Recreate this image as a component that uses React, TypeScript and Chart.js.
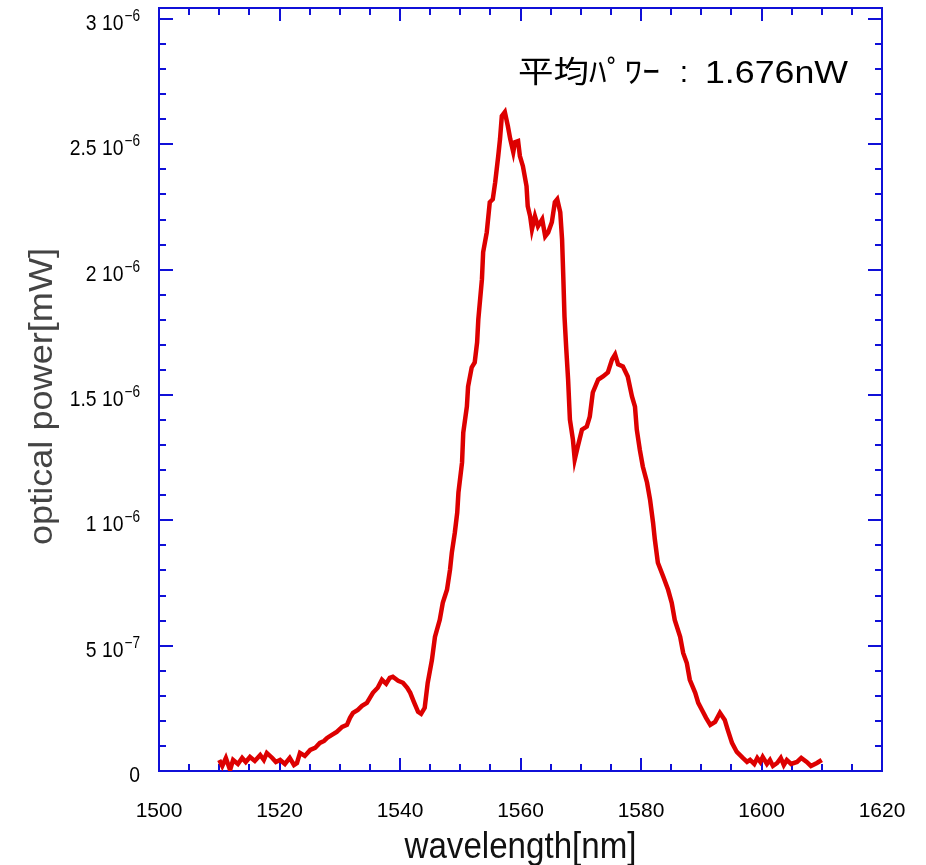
import React, { useEffect, useRef } from "react";
import { Chart, registerables } from "chart.js";

Chart.register(...registerables);

// wavelength [nm]
const wavelength = [
  1510.0, 1510.5, 1511.1, 1511.8, 1512.3, 1513.1, 1513.8, 1514.4, 1515.1, 1515.9,
  1516.8, 1517.4, 1517.9, 1518.8, 1519.4, 1520.1, 1520.9, 1521.7, 1522.4, 1522.9,
  1523.4, 1524.2, 1525.1, 1525.9, 1526.7, 1527.4, 1527.9, 1528.7, 1529.5, 1530.4,
  1531.2, 1531.7, 1532.2, 1533.0, 1533.7, 1534.5, 1535.0, 1535.5, 1536.3, 1537.0,
  1537.7, 1538.3, 1538.8, 1539.7, 1540.5, 1541.2, 1541.7, 1542.3, 1543.0, 1543.5,
  1544.1, 1544.6, 1545.3, 1545.8, 1546.6, 1547.1, 1547.8, 1548.3, 1548.6, 1549.1,
  1549.5, 1549.7, 1550.3, 1550.5, 1551.1, 1551.3, 1551.9, 1552.4, 1552.8, 1553.0,
  1553.6, 1553.8, 1554.4, 1554.9, 1555.4, 1555.8, 1556.3, 1556.6, 1556.9, 1557.4,
  1557.9, 1558.3, 1558.8, 1559.1, 1559.6, 1559.9, 1560.4, 1561.0, 1561.2, 1561.6,
  1561.9, 1562.4, 1562.9, 1563.6, 1564.1, 1564.6, 1565.2, 1565.7, 1566.1, 1566.6,
  1566.9, 1567.1, 1567.3, 1567.6, 1567.9, 1568.2, 1568.7, 1569.0, 1569.5, 1570.2,
  1571.0, 1571.5, 1572.0, 1572.9, 1573.7, 1574.5, 1575.2, 1575.7, 1576.2, 1577.0,
  1577.8, 1578.5, 1579.0, 1579.3, 1579.8, 1580.3, 1581.0, 1581.5, 1582.0, 1582.3,
  1582.8, 1583.7, 1584.5, 1585.1, 1585.6, 1586.5, 1587.0, 1587.6, 1588.1, 1589.0,
  1589.5, 1590.1, 1590.8, 1591.5, 1592.3, 1593.1, 1593.9, 1594.4, 1595.1, 1595.9,
  1596.9, 1597.6, 1598.1, 1598.8, 1599.3, 1599.8, 1600.2, 1600.9, 1601.4, 1601.9,
  1602.6, 1603.2, 1603.7, 1604.2, 1604.9, 1605.9, 1606.6, 1607.5, 1608.2, 1609.2,
  1610.0,
];

// optical power, in units of 1e-6 mW
const power = [
  0.044, 0.020, 0.052, 0.004, 0.044, 0.028, 0.052, 0.036, 0.056, 0.040,
  0.064, 0.044, 0.072, 0.052, 0.036, 0.044, 0.028, 0.052, 0.024, 0.032,
  0.072, 0.060, 0.084, 0.092, 0.112, 0.120, 0.132, 0.144, 0.156, 0.176,
  0.184, 0.212, 0.232, 0.244, 0.260, 0.272, 0.292, 0.312, 0.332, 0.364,
  0.348, 0.372, 0.376, 0.360, 0.352, 0.332, 0.312, 0.276, 0.236, 0.228,
  0.252, 0.352, 0.443, 0.535, 0.603, 0.671, 0.723, 0.803, 0.871, 0.951,
  1.031, 1.111, 1.231, 1.350, 1.454, 1.534, 1.610, 1.630, 1.710, 1.802,
  1.962, 2.070, 2.149, 2.269, 2.281, 2.349, 2.453, 2.521, 2.613, 2.629,
  2.573, 2.521, 2.469, 2.509, 2.513, 2.453, 2.413, 2.333, 2.253, 2.213,
  2.161, 2.213, 2.173, 2.201, 2.133, 2.149, 2.189, 2.269, 2.281, 2.229,
  2.121, 1.974, 1.814, 1.682, 1.562, 1.402, 1.322, 1.243, 1.294, 1.362,
  1.374, 1.414, 1.510, 1.562, 1.574, 1.590, 1.642, 1.662, 1.622, 1.614,
  1.574, 1.494, 1.454, 1.362, 1.282, 1.215, 1.151, 1.083, 0.991, 0.923,
  0.831, 0.775, 0.723, 0.671, 0.603, 0.535, 0.471, 0.431, 0.364, 0.312,
  0.272, 0.244, 0.212, 0.184, 0.196, 0.232, 0.204, 0.164, 0.112, 0.076,
  0.052, 0.036, 0.044, 0.028, 0.052, 0.036, 0.056, 0.028, 0.044, 0.020,
  0.032, 0.052, 0.024, 0.044, 0.028, 0.036, 0.052, 0.036, 0.020, 0.032,
  0.044,
];

const xTicks = [1500, 1520, 1540, 1560, 1580, 1600, 1620];
const xTickLabels = ["1500", "1520", "1540", "1560", "1580", "1600", "1620"];
const yTicks = [0, 0.5, 1, 1.5, 2, 2.5, 3];
const yTickMantissa = ["0", "5", "1", "1.5", "2", "2.5", "3"];
const yTickExponent = ["", "\u22127", "\u22126", "\u22126", "\u22126", "\u22126", "\u22126"];

const xTitle = "wavelength[nm]";
const yTitle = "optical power[mW]";
const noteLabel = "平均ﾊﾟﾜｰ";
const noteColon = ":";
const noteValue = "1.676nW";

const AXIS_COLOR = "#1010d8";
const LINE_COLOR = "#dd0000";
const TICK_FONT = "'Liberation Sans', Arial, sans-serif";

function fitText(ctx: CanvasRenderingContext2D, text: string, x: number, y: number, width: number, font: string) {
  ctx.save();
  ctx.font = font;
  const w = ctx.measureText(text).width;
  ctx.translate(x, y);
  ctx.scale(width / w, 1);
  ctx.textAlign = "left";
  ctx.textBaseline = "alphabetic";
  ctx.fillText(text, 0, 0);
  ctx.restore();
}

// draw text right-aligned at xr, horizontally condensed by factor k; returns drawn width
function rightText(ctx: CanvasRenderingContext2D, text: string, xr: number, y: number, font: string, k: number) {
  ctx.save();
  ctx.font = font;
  const w = ctx.measureText(text).width * k;
  ctx.translate(xr - w, y);
  ctx.scale(k, 1);
  ctx.textAlign = "left";
  ctx.textBaseline = "alphabetic";
  ctx.fillText(text, 0, 0);
  ctx.restore();
  return w;
}

const framePlugin = {
  id: "framePlugin",
  beforeDatasetsDraw(chart: any) {
    const { ctx, chartArea, scales } = chart;
    const { left, right, top, bottom } = chartArea;
    const x = scales.x;
    const y = scales.y;
    ctx.save();
    ctx.strokeStyle = AXIS_COLOR;
    ctx.lineWidth = 2;
    ctx.strokeRect(left, top, right - left, bottom - top);
    ctx.beginPath();
    for (let i = 0; i < xTicks.length; i++) {
      const v = xTicks[i];
      const px = Math.round(x.getPixelForValue(v));
      ctx.moveTo(px, bottom); ctx.lineTo(px, bottom - 13);
      ctx.moveTo(px, top); ctx.lineTo(px, top + 13);
      if (i < xTicks.length - 1) {
        const step = (xTicks[i + 1] - v) / 4;
        for (let k = 1; k < 4; k++) {
          const mp = Math.round(x.getPixelForValue(v + step * k));
          ctx.moveTo(mp, bottom); ctx.lineTo(mp, bottom - 7);
          ctx.moveTo(mp, top); ctx.lineTo(mp, top + 7);
        }
      }
    }
    for (let i = 0; i < yTicks.length; i++) {
      const v = yTicks[i];
      const py = Math.round(y.getPixelForValue(v));
      ctx.moveTo(left, py); ctx.lineTo(left + 14, py);
      ctx.moveTo(right, py); ctx.lineTo(right - 14, py);
      if (i < yTicks.length - 1) {
        const step = (yTicks[i + 1] - v) / 5;
        for (let k = 1; k < 5; k++) {
          const mp = Math.round(y.getPixelForValue(v + step * k));
          ctx.moveTo(left, mp); ctx.lineTo(left + 7, mp);
          ctx.moveTo(right, mp); ctx.lineTo(right - 7, mp);
        }
      }
    }
    ctx.stroke();
    ctx.restore();
  },
  afterDraw(chart: any) {
    const { ctx, chartArea, scales } = chart;
    const { left, right, top, bottom } = chartArea;
    const x = scales.x;
    const y = scales.y;
    ctx.save();
    ctx.fillStyle = "#000";
    ctx.font = "21px " + TICK_FONT;
    ctx.textAlign = "center";
    ctx.textBaseline = "alphabetic";
    for (let i = 0; i < xTicks.length; i++) {
      ctx.fillText(xTickLabels[i], x.getPixelForValue(xTicks[i]), bottom + 46);
    }
    const labelRight = left - 19;
    for (let i = 0; i < yTicks.length; i++) {
      const py = y.getPixelForValue(yTicks[i]);
      const exp = yTickExponent[i];
      if (exp) {
        const ew = rightText(ctx, exp, labelRight, py + 2, "16px " + TICK_FONT, 0.85);
        rightText(ctx, yTickMantissa[i] + " 10", labelRight - ew - 1, py + 11, "22px " + TICK_FONT, 0.88);
      } else {
        rightText(ctx, yTickMantissa[i], labelRight, py + 11, "22px " + TICK_FONT, 0.88);
      }
    }
    ctx.fillStyle = "#111";
    const cx = (left + right) / 2;
    fitText(ctx, xTitle, cx - 116, bottom + 87, 232, "36px " + TICK_FONT);
    ctx.save();
    ctx.fillStyle = "#444";
    ctx.translate(52, 545);
    ctx.rotate(-Math.PI / 2);
    fitText(ctx, yTitle, 0, 0, 297, "34px " + TICK_FONT);
    ctx.restore();
    ctx.fillStyle = "#000";
    fitText(ctx, noteLabel, 518, 82, 142, "30px 'Noto Sans CJK JP', sans-serif");
    ctx.font = "30px " + TICK_FONT;
    ctx.textAlign = "center";
    ctx.fillText(noteColon, 684, 82);
    fitText(ctx, noteValue, 705, 83, 143, "31px " + TICK_FONT);
    ctx.restore();
  },
};

export default function App() {
  const canvasRef = useRef<HTMLCanvasElement | null>(null);
  useEffect(() => {
    if (!canvasRef.current) return;
    const chart = new Chart(canvasRef.current, {
      type: "line",
      data: {
        datasets: [
          {
            data: wavelength.map((w, i) => ({ x: w, y: power[i] })),
            borderColor: LINE_COLOR,
            backgroundColor: LINE_COLOR,
            borderWidth: 4.5,
            pointRadius: 0,
            tension: 0,
            fill: false,
          },
        ],
      },
      options: {
        animation: false,
        responsive: false,
        events: [],
        layout: { padding: { left: 159, right: 44, top: 8, bottom: 94 } },
        scales: {
          x: { type: "linear", min: 1500, max: 1620, display: false },
          y: { type: "linear", min: 0, max: 3.044, display: false },
        },
        plugins: { legend: { display: false }, tooltip: { enabled: false } },
      },
      plugins: [framePlugin],
    });
    return () => chart.destroy();
  }, []);
  return (
    <div style={{ position: "absolute", left: 0, top: 0, width: 926, height: 865, background: "#fff" }}>
      <canvas ref={canvasRef} width={926} height={865} />
    </div>
  );
}
